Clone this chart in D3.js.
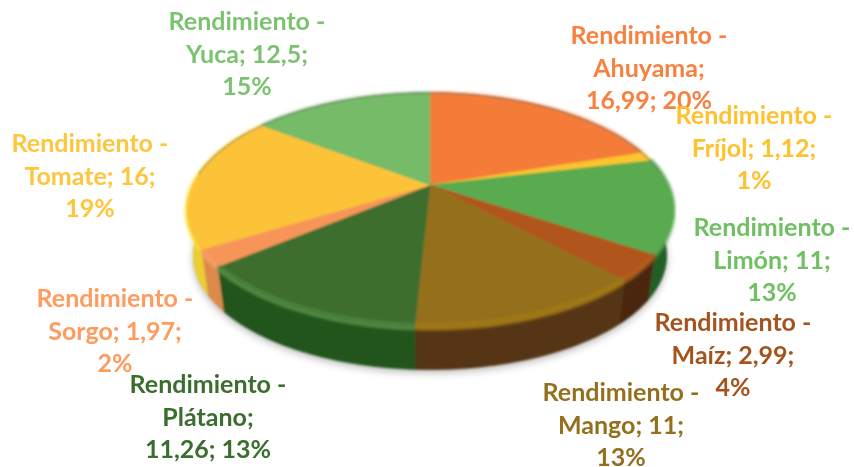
<!DOCTYPE html>
<html>
<head>
<meta charset="utf-8">
<script src="https://cdn.jsdelivr.net/npm/d3@7"></script>
<style>
  html, body { margin: 0; padding: 0; background: #fff; }
  svg { display: block; }
  text { font-family: Lato, 'Open Sans', sans-serif; font-weight: 700; font-size: 25px; }
</style>
</head>
<body>
<svg id="container"></svg>
<script>
const crops = ['Ahuyama', 'Fríjol', 'Limón', 'Maíz', 'Mango', 'Plátano', 'Sorgo', 'Tomate', 'Yuca'];
const values = [16.99, 1.12, 11, 2.99, 11, 11.26, 1.97, 16, 12.5];
const valueLabels = ['16,99', '1,12', '11', '2,99', '11', '11,26', '1,97', '16', '12,5'];
const percents = [20, 1, 13, 4, 13, 13, 2, 19, 15];

const topColors = ['#f47b38', '#fcc42e', '#5aab4f', '#b0561a', '#95701a', '#3d6e2e', '#f79558', '#fdc338', '#74bb68'];
const rimColors = ['#f47b38', '#fcc42e', '#5aab4f', '#b8641f', '#ad8418', '#5f9a50', '#f7a268', '#ffe23c', '#74bb68'];
const wallColors = ['#b85a28', '#c29020', '#235f26', '#48280f', '#553512', '#20551a', '#dc8a4c', '#eccd32', '#4f8a45'];
const labelColors = ['#f8803f', '#ffc12f', '#6fbf63', '#a5521f', '#94701f', '#3b6e2e', '#ff9b5e', '#ffc53c', '#7bc370'];

// label layout: centre x and the baseline of the first line
const labelX = [649, 754, 772, 733, 621, 208, 115, 90, 247];
const labelY = [44, 124, 236, 331, 401, 393, 307, 152, 30];
// how each label breaks after "Rendimiento -"
const labelLines = crops.map((c, i) => {
  const v = valueLabels[i];
  const p = percents[i] + '%';
  if (c === 'Ahuyama' || c === 'Plátano') return [c + ';', v + '; ' + p];
  return [c + '; ' + v + ';', p];
});

const width = 854;
const height = 467;
const depth = 47;
const bottomScale = 0.975;

// the pie is seen in perspective, the apex sits above the middle of the outline
const cx = 430;
const cy = 185;
const rx = 237.4;
const ry = 111.7;
const persp = 0.2137;

function project(angle, r, drop) {
  const X = Math.sin(angle) * r;
  const Y = Math.cos(angle) * r;
  const k = 1 / (1 + persp * Y);
  return [cx + rx * X * k, cy - ry * Y * k + (drop || 0)];
}

function arcPoints(a0, a1, drop, r) {
  const n = Math.max(2, Math.ceil((a1 - a0) / 0.02));
  return d3.range(n + 1).map((i) => project(a0 + ((a1 - a0) * i) / n, r || 1, drop));
}

const line = d3.line();
const pie = d3.pie().sort(null).value((d) => d);
const arcs = pie(values);

const svg = d3.select('#container').attr('width', width).attr('height', height);

const defs = svg.append('defs');
defs.append('filter').attr('id', 'soft').append('feGaussianBlur').attr('stdDeviation', 0.8);
defs.append('filter').attr('id', 'glow').append('feGaussianBlur').attr('stdDeviation', 1.8);
defs
  .append('filter')
  .attr('id', 'shadow')
  .attr('x', '-10%')
  .attr('y', '-10%')
  .attr('width', '120%')
  .attr('height', '120%')
  .append('feGaussianBlur')
  .attr('stdDeviation', 4);
defs.append('filter').attr('id', 'textSoft').append('feGaussianBlur').attr('stdDeviation', 0.3);

svg
  .append('path')
  .attr('d', line(arcPoints(0, Math.PI * 2, depth + 3, bottomScale)) + 'Z')
  .attr('fill', '#000')
  .attr('opacity', 0.28)
  .attr('filter', 'url(#shadow)');

const chart = svg.append('g').attr('filter', 'url(#soft)');

// walls first, the top faces cover whatever part is behind
chart
  .selectAll('.wall')
  .data(arcs)
  .enter()
  .append('path')
  .attr('class', 'wall')
  .attr('d', (d) => {
    const upper = arcPoints(d.startAngle, d.endAngle, 0);
    const lower = arcPoints(d.startAngle, d.endAngle, depth, bottomScale).reverse();
    return line(upper.concat(lower)) + 'Z';
  })
  .attr('fill', (d, i) => wallColors[i])
  .attr('stroke', (d, i) => wallColors[i])
  .attr('stroke-width', 0.6);

// light bevel along the front edge
chart
  .selectAll('.rim')
  .data(arcs)
  .enter()
  .append('path')
  .attr('class', 'rim')
  .attr('d', (d) => line(arcPoints(d.startAngle, d.endAngle, 1)))
  .attr('fill', 'none')
  .attr('stroke', (d, i) => rimColors[i])
  .attr('stroke-width', 4)
  .attr('filter', 'url(#glow)');

chart
  .selectAll('.slice')
  .data(arcs)
  .enter()
  .append('path')
  .attr('class', 'slice')
  .attr('d', (d) => line([[cx, cy]].concat(arcPoints(d.startAngle, d.endAngle, 0))) + 'Z')
  .attr('fill', (d, i) => topColors[i])
  .attr('stroke', (d, i) => topColors[i])
  .attr('stroke-width', 0.6);

chart
  .selectAll('.rimTop')
  .data(arcs)
  .enter()
  .append('path')
  .attr('class', 'rimTop')
  .attr('d', (d) => line(arcPoints(d.startAngle, d.endAngle, -2)))
  .attr('fill', 'none')
  .attr('stroke', (d, i) => rimColors[i])
  .attr('stroke-width', 4)
  .attr('opacity', (d) => (Math.cos((d.startAngle + d.endAngle) / 2) < 0 ? 0.4 : 0));

// grey line on the far edge
chart
  .append('path')
  .attr('d', line(arcPoints(-Math.PI * 0.47, Math.PI * 0.47, 0)))
  .attr('fill', 'none')
  .attr('stroke', '#6f6f5f')
  .attr('stroke-width', 1.2)
  .attr('opacity', 0.7);

const labels = svg
  .append('g')
  .attr('filter', 'url(#textSoft)')
  .selectAll('text')
  .data(crops)
  .enter()
  .append('text')
  .attr('text-anchor', 'middle')
  .attr('fill', (d, i) => labelColors[i])
  .attr('y', (d, i) => labelY[i]);

labels.each(function (d, i) {
  const rows = ['Rendimiento -'].concat(labelLines[i]);
  d3.select(this)
    .selectAll('tspan')
    .data(rows)
    .enter()
    .append('tspan')
    .attr('x', labelX[i])
    .attr('dy', (r, j) => (j === 0 ? 0 : 32.5))
    .text((r) => r);
});
</script>
</body>
</html>
